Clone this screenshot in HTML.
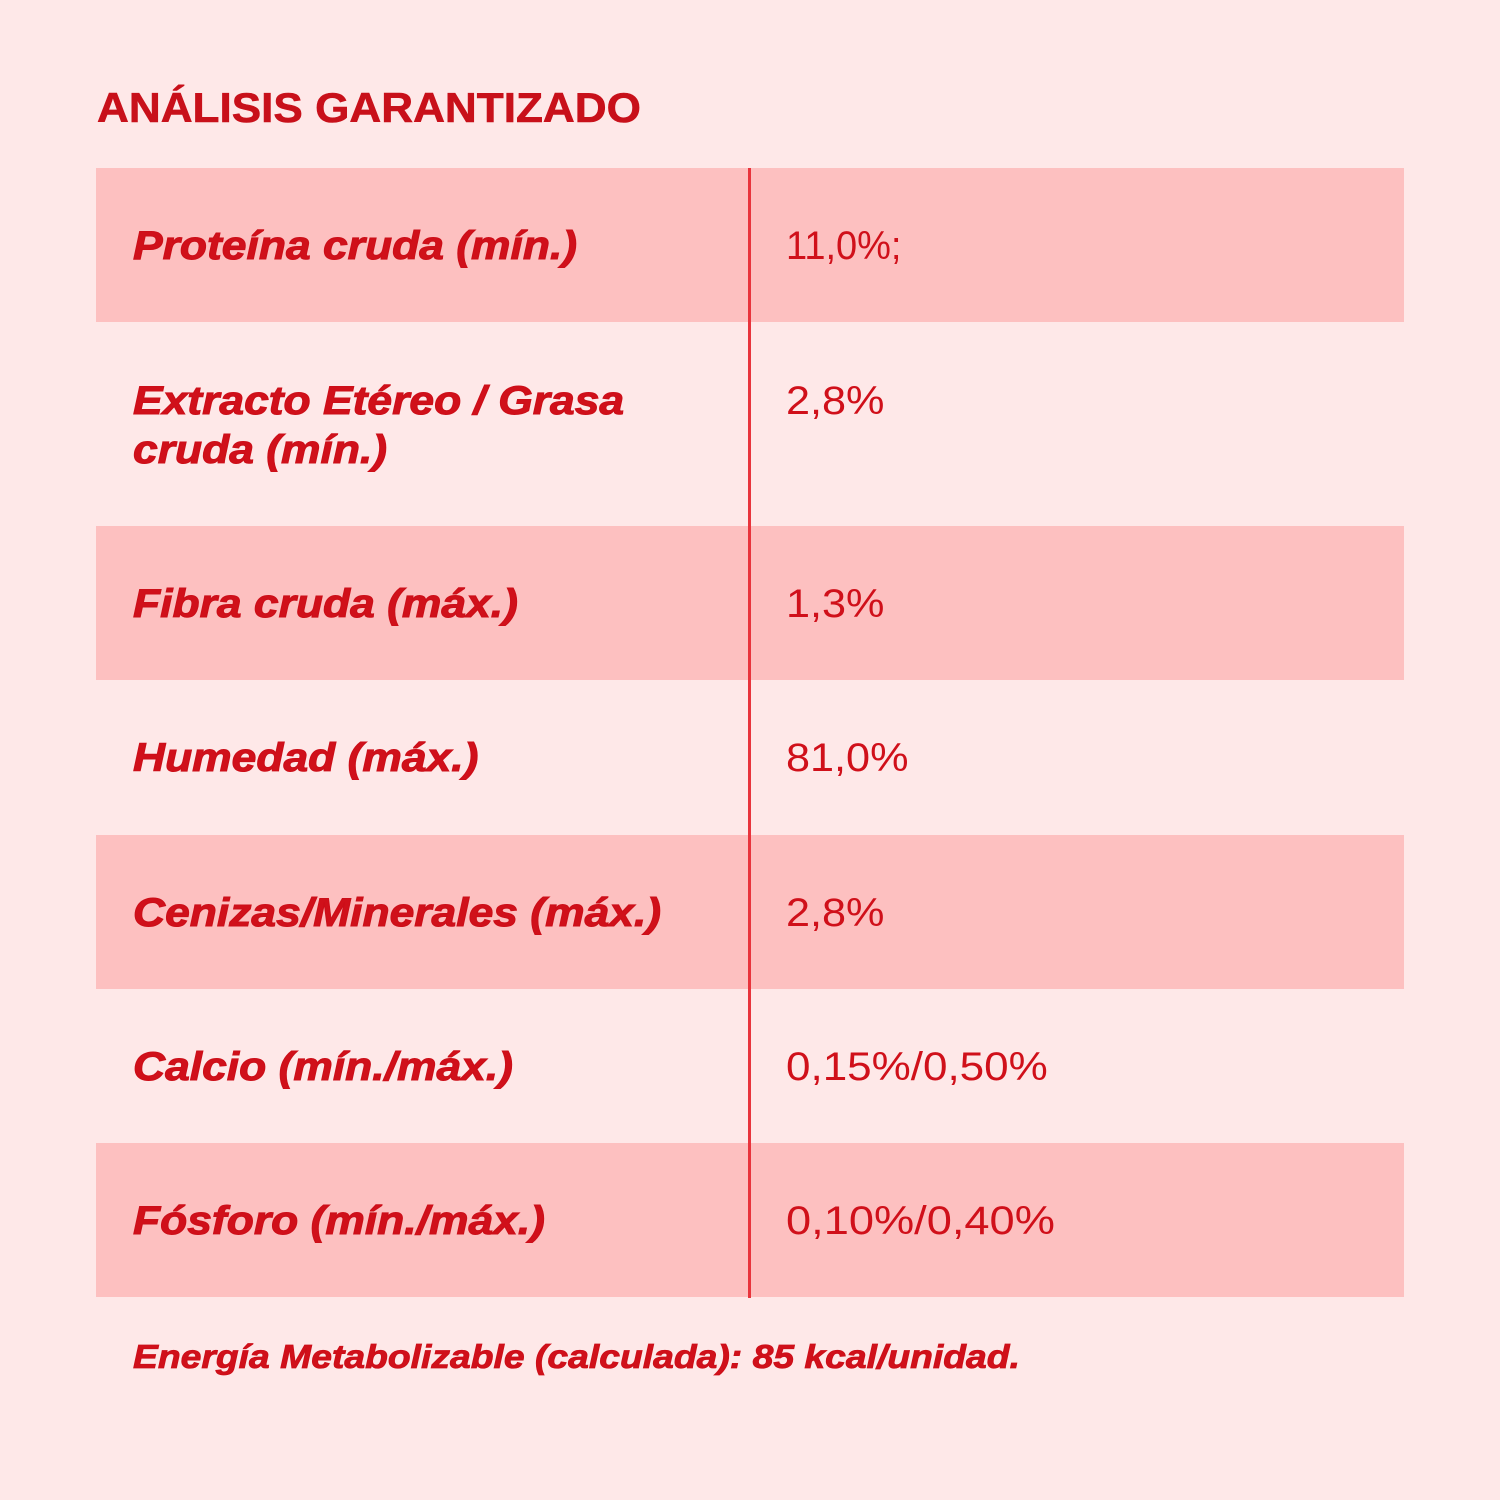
<!DOCTYPE html>
<html><head><style>
body{margin:0;width:1500px;height:1500px;background:#fee8e8;font-family:"Liberation Sans",sans-serif;position:relative;overflow:hidden;color:#d0101a}
.t{position:absolute;left:97px;top:84px;font-size:42px;font-weight:bold;color:#c8101a;transform:scaleX(1.05);transform-origin:left top;-webkit-text-stroke:0.6px #c8101a}
.row{position:absolute;left:96px;width:1308px;height:154px}
.p{background:#fdc0c0}
.l{position:absolute;left:37px;font-size:40px;font-weight:bold;font-style:italic;line-height:49px;transform:scaleX(1.11);transform-origin:left top;-webkit-text-stroke:1px #cc0e18;white-space:nowrap}
.v{position:absolute;left:690px;font-size:40px;line-height:49px;transform:scaleX(1.08);transform-origin:left top;white-space:nowrap}
.line{position:absolute;left:748px;top:168px;width:3px;height:1130px;background:#e8343c}
.f{position:absolute;left:133px;top:1338px;font-size:33px;font-weight:bold;font-style:italic;transform:scaleX(1.13);transform-origin:left top;-webkit-text-stroke:0.8px #cc0e18;white-space:nowrap}
</style></head><body>
<div class="t">ANÁLISIS GARANTIZADO</div>
<div class="row p" style="top:168px"><div class="l" style="top:54px">Proteína cruda (mín.)</div><div class="v" style="top:54px;transform:scaleX(0.95)">11,0%;</div></div>
<div class="row" style="top:322px;height:204px"><div class="l" style="top:55px">Extracto Etéreo / Grasa<br>cruda (mín.)</div><div class="v" style="top:55px">2,8%</div></div>
<div class="row p" style="top:526px"><div class="l" style="top:54px">Fibra cruda (máx.)</div><div class="v" style="top:54px">1,3%</div></div>
<div class="row" style="top:680px"><div class="l" style="top:54px">Humedad (máx.)</div><div class="v" style="top:54px">81,0%</div></div>
<div class="row p" style="top:835px"><div class="l" style="top:54px">Cenizas/Minerales (máx.)</div><div class="v" style="top:54px">2,8%</div></div>
<div class="row" style="top:989px"><div class="l" style="top:54px">Calcio (mín./máx.)</div><div class="v" style="top:54px;transform:scaleX(1.1)">0,15%/0,50%</div></div>
<div class="row p" style="top:1143px"><div class="l" style="top:54px">Fósforo (mín./máx.)</div><div class="v" style="top:54px;transform:scaleX(1.13)">0,10%/0,40%</div></div>
<div class="line"></div>
<div class="f">Energía Metabolizable (calculada): 85 kcal/unidad.</div>
</body></html>
